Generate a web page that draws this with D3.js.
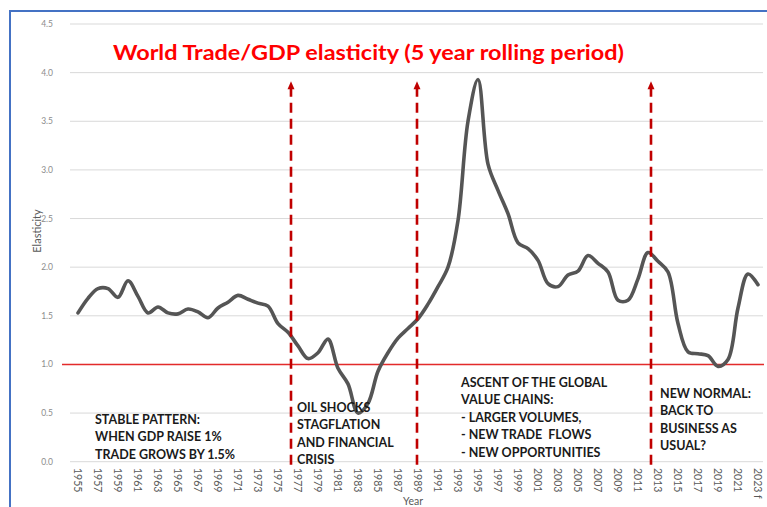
<!DOCTYPE html>
<html>
<head>
<meta charset="utf-8">
<script src="https://cdn.jsdelivr.net/npm/d3@7/dist/d3.min.js"></script>
<style>
  html, body { margin: 0; padding: 0; background: #ffffff; }
  svg { display: block; }
</style>
</head>
<body>
<script>
// ---- data ----
const years = d3.range(1955, 2024);
const elasticity = [
  1.53, 1.68, 1.78, 1.78, 1.69, 1.86, 1.70, 1.53, 1.59, 1.53,
  1.52, 1.57, 1.54, 1.48, 1.58, 1.64, 1.71, 1.67, 1.63, 1.60,
  1.42, 1.33, 1.19, 1.06, 1.12, 1.26, 0.96, 0.80, 0.50, 0.60,
  0.93, 1.12, 1.27, 1.37, 1.47, 1.62, 1.80, 2.00, 2.48, 3.50,
  3.93, 3.06, 2.79, 2.55, 2.25, 2.19, 2.07, 1.83, 1.80, 1.92,
  1.96, 2.12, 2.04, 1.95, 1.66, 1.66, 1.88, 2.15, 2.06, 1.95,
  1.42, 1.13, 1.11, 1.09, 0.98, 1.05, 1.58, 1.93, 1.82
];
const xTickYears = d3.range(1955, 2024, 2);
const xTickLabels = xTickYears.map(y => y === 2023 ? "2023 f" : String(y));
const yTicks = [0, 0.5, 1.0, 1.5, 2.0, 2.5, 3.0, 3.5, 4.0, 4.5];
const referenceValue = 1.0;
const arrowYears = [1976.3, 1988.9, 2012.3];
const arrowTopValue = 3.9;

const title = "World Trade/GDP elasticity (5 year rolling period)";
const annotations = [
  { year: 1956.7, value: 0.39, lines: ["STABLE PATTERN:", "WHEN GDP RAISE 1%", "TRADE GROWS BY 1.5%"] },
  { year: 1976.9, value: 0.515, lines: ["OIL SHOCKS", "STAGFLATION", "AND FINANCIAL", "CRISIS"] },
  { year: 1993.3, value: 0.772, lines: ["ASCENT OF THE GLOBAL", "VALUE CHAINS:", "- LARGER VOLUMES,", "- NEW TRADE  FLOWS", "- NEW OPPORTUNITIES"] },
  { year: 2013.2, value: 0.658, lines: ["NEW NORMAL:", "BACK TO", "BUSINESS AS", "USUAL?"] }
];

// ---- layout ----
const W = 767, H = 507;
const svg = d3.select("body").append("svg").attr("width", W).attr("height", H);

const x = d3.scaleLinear().domain([1955, 2023]).range([78, 758]);
const y = d3.scaleLinear().domain([0, 4.5]).range([461.7, 24]);

// border
svg.append("rect")
  .attr("x", 10).attr("y", 11).attr("width", 900).attr("height", 700)
  .attr("fill", "none").attr("stroke", "#4472c4").attr("stroke-width", 2);

// gridlines
svg.append("g").selectAll("line").data(yTicks).join("line")
  .attr("x1", 70).attr("x2", 763)
  .attr("y1", d => y(d)).attr("y2", d => y(d))
  .attr("stroke", "#d9d9d9").attr("stroke-width", 1);

// y tick labels
svg.append("g").selectAll("text").data(yTicks).join("text")
  .attr("x", 53).attr("y", d => y(d)).attr("dy", "0.35em")
  .attr("text-anchor", "end")
  .attr("font-family", "Lato, 'Open Sans', sans-serif").attr("font-size", 8.5)
  .attr("fill", "#8c8c8c")
  .text(d => d.toFixed(1));

// x tick labels (rotated)
svg.append("g").selectAll("text").data(xTickYears).join("text")
  .attr("transform", d => `translate(${x(d)},468) rotate(90)`)
  .attr("dy", "0.35em")
  .attr("text-anchor", "start")
  .attr("font-family", "Lato, 'Open Sans', sans-serif").attr("font-size", 10.5)
  .attr("fill", "#595959")
  .text((d, i) => xTickLabels[i]);

// axis titles
svg.append("text")
  .attr("transform", `translate(41,231) rotate(-90)`)
  .attr("text-anchor", "middle")
  .attr("font-family", "Lato, 'Open Sans', sans-serif").attr("font-size", 11)
  .attr("fill", "#595959")
  .text("Elasticity");
svg.append("text")
  .attr("x", 413).attr("y", 505)
  .attr("text-anchor", "middle")
  .attr("font-family", "Lato, 'Open Sans', sans-serif").attr("font-size", 10.5)
  .attr("fill", "#595959")
  .text("Year");

// reference line at 1.0
svg.append("line")
  .attr("x1", 62).attr("x2", 764)
  .attr("y1", y(referenceValue)).attr("y2", y(referenceValue))
  .attr("stroke", "#e32b2b").attr("stroke-width", 1.6);

// data line
const line = d3.line()
  .x((d, i) => x(years[i]))
  .y(d => y(d))
  .curve(d3.curveCatmullRom.alpha(0.5));
svg.append("path")
  .datum(elasticity)
  .attr("d", line)
  .attr("fill", "none")
  .attr("stroke", "#555555")
  .attr("stroke-width", 3.6)
  .attr("stroke-linejoin", "round")
  .attr("stroke-linecap", "round");

// dashed arrows
const arrowColor = "#c00000";
const ag = svg.append("g");
arrowYears.forEach(yr => {
  const ax = x(yr);
  ag.append("line")
    .attr("x1", ax).attr("x2", ax)
    .attr("y1", y(0) + 3).attr("y2", y(arrowTopValue) + 6)
    .attr("stroke", arrowColor).attr("stroke-width", 2.6)
    .attr("stroke-dasharray", "10,6");
  ag.append("path")
    .attr("d", `M${ax},${y(arrowTopValue) - 1} L${ax - 3.5},${y(arrowTopValue) + 7} L${ax + 3.5},${y(arrowTopValue) + 7} Z`)
    .attr("fill", arrowColor);
});

// title
svg.append("text")
  .attr("x", 113).attr("y", 60)
  .attr("font-family", "Lato, 'Open Sans', sans-serif").attr("font-size", 21.5)
  .attr("font-weight", "bold")
  .attr("textLength", 511).attr("lengthAdjust", "spacingAndGlyphs")
  .attr("fill", "#ff0000")
  .text(title);

// annotations
annotations.forEach(a => {
  const t = svg.append("text")
    .attr("x", x(a.year)).attr("y", y(a.value))
    .attr("font-family", "Lato, 'Open Sans', sans-serif").attr("font-size", 12.5)
    .attr("font-weight", "bold").attr("fill", "#1a1a1a");
  a.lines.forEach((ln, i) => {
    t.append("tspan").attr("x", x(a.year)).attr("dy", i === 0 ? 0 : 17.6)
      .attr("xml:space", "preserve").style("white-space", "pre").text(ln);
  });
});
</script>
</body>
</html>
